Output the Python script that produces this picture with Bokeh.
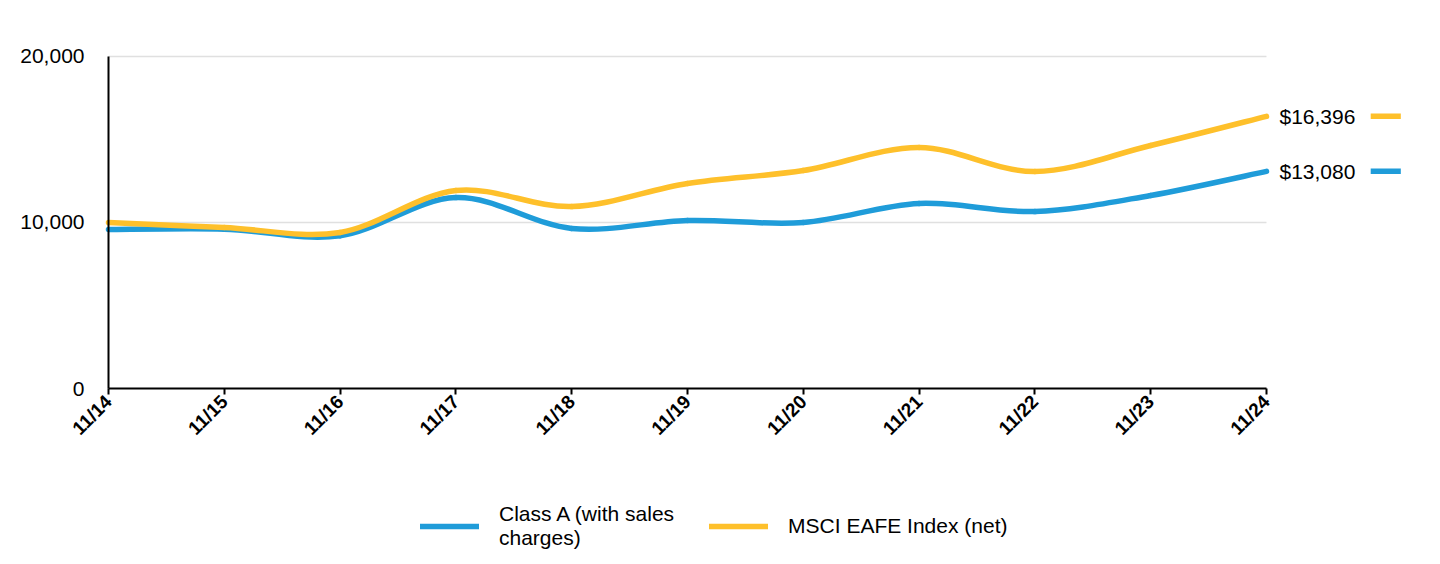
import math
from bokeh.plotting import figure
from bokeh.models import (Range1d, FixedTicker, NumeralTickFormatter, Legend, LegendItem,
                          ColumnDataSource)
from bokeh.embed import file_html
from bokeh.resources import INLINE

# ---- data ----
x_labels = ["11/14", "11/15", "11/16", "11/17", "11/18", "11/19", "11/20",
            "11/21", "11/22", "11/23", "11/24"]
class_a = [9575, 9600, 9200, 11500, 9640, 10120, 10000, 11145, 10660, 11630, 13080]
msci = [10000, 9700, 9400, 11930, 10960, 12350, 13130, 14520, 13070, 14640, 16396]
series_names = ["Class A (with sales\ncharges)", "MSCI EAFE Index (net)"]
end_labels = ["$13,080", "$16,396"]
y_ticks = [0, 10000, 20000]
grid_ticks = [10000, 20000]

BLUE = "#1f9cd9"
YELLOW = "#fec02b"
FONT = "Liberation Sans"

xs = list(range(len(x_labels)))

# frame spans the whole canvas; axes are pinned at x=0 / y=0 inside it
p = figure(width=1432, height=560,
           x_range=Range1d(-0.829, 11.33), y_range=Range1d(-10361, 23373),
           output_backend="svg", toolbar_location=None,
           min_border_left=12, min_border_top=0, min_border_right=12,
           min_border_bottom=0)
p.outline_line_color = None
p.background_fill_color = "white"

# axes
p.xaxis.fixed_location = 0
p.xaxis.ticker = FixedTicker(ticks=xs)
p.xaxis.major_label_overrides = {i: s for i, s in enumerate(x_labels)}
p.xaxis.bounds = (xs[0], xs[-1])
p.xaxis.axis_line_color = "black"
p.xaxis.axis_line_width = 2
p.xaxis.major_tick_line_color = "black"
p.xaxis.major_tick_line_width = 2
p.xaxis.major_tick_in = 0
p.xaxis.major_tick_out = 6
p.xaxis.minor_tick_line_color = None
p.xaxis.major_label_orientation = math.pi / 4
p.xaxis.major_label_text_font = FONT
p.xaxis.major_label_text_font_style = "bold"
p.xaxis.major_label_text_font_size = "19px"
p.xaxis.major_label_text_color = "black"
p.xaxis.major_label_standoff = 4

p.yaxis.fixed_location = 0
p.yaxis.ticker = FixedTicker(ticks=y_ticks)
p.yaxis.bounds = (y_ticks[0], y_ticks[-1])
p.yaxis.formatter = NumeralTickFormatter(format="0,0")
p.yaxis.axis_line_color = "black"
p.yaxis.axis_line_width = 2
p.yaxis.major_tick_line_color = None
p.yaxis.minor_tick_line_color = None
p.yaxis.major_label_text_font = FONT
p.yaxis.major_label_text_font_size = "21px"
p.yaxis.major_label_text_color = "black"
p.yaxis.major_label_standoff = 18

p.xgrid.grid_line_color = None
p.ygrid.grid_line_color = None
# horizontal grid lines limited to the data extent
p.segment(x0=[xs[0]] * len(grid_ticks), x1=[xs[-1]] * len(grid_ticks),
          y0=grid_ticks, y1=grid_ticks, line_color="#e0e0e0", line_width=1.5,
          level="underlay")


def bezier_source(xv, yv, t=1.0 / 6):
    n = len(xv)
    d = dict(x0=[], y0=[], x1=[], y1=[], cx0=[], cy0=[], cx1=[], cy1=[])
    for i in range(n - 1):
        pm = i - 1 if i > 0 else i
        pn = i + 2 if i + 2 < n else i + 1
        d["x0"].append(xv[i]); d["y0"].append(yv[i])
        d["x1"].append(xv[i + 1]); d["y1"].append(yv[i + 1])
        d["cx0"].append(xv[i] + (xv[i + 1] - xv[pm]) * t)
        d["cy0"].append(yv[i] + (yv[i + 1] - yv[pm]) * t)
        d["cx1"].append(xv[i + 1] - (xv[pn] - xv[i]) * t)
        d["cy1"].append(yv[i + 1] - (yv[pn] - yv[i]) * t)
    return ColumnDataSource(d)


items = []
DASH_START, DASH_END = 10.9, 11.16
for vals, color, name, lab in [(class_a, BLUE, series_names[0], end_labels[0]),
                               (msci, YELLOW, series_names[1], end_labels[1])]:
    bz = p.bezier(x0="x0", y0="y0", x1="x1", y1="y1", cx0="cx0", cy0="cy0",
                  cx1="cx1", cy1="cy1", source=bezier_source(xs, vals),
                  line_color=color, line_width=5.5, line_cap="round")
    items.append(LegendItem(label=name, renderers=[bz], index=0))
    p.text(x=[xs[-1]], y=[vals[-1]], text=[lab], x_offset=13,
           text_baseline="middle", text_align="left",
           text_font_size="21px", text_color="black",
           text_font={"value": FONT})
    p.segment(x0=[DASH_START], y0=[vals[-1]], x1=[DASH_END], y1=[vals[-1]],
              line_color=color, line_width=5.5)

legend = Legend(items=items, orientation="horizontal", location=(408, 10),
                glyph_width=59, glyph_height=20, label_standoff=20, spacing=35,
                label_text_font=FONT, label_text_font_size="21px",
                label_text_color="black", border_line_color=None,
                background_fill_alpha=0, margin=0, padding=0)
p.add_layout(legend, "center")

open("out.html", "w").write(file_html(p, INLINE))
